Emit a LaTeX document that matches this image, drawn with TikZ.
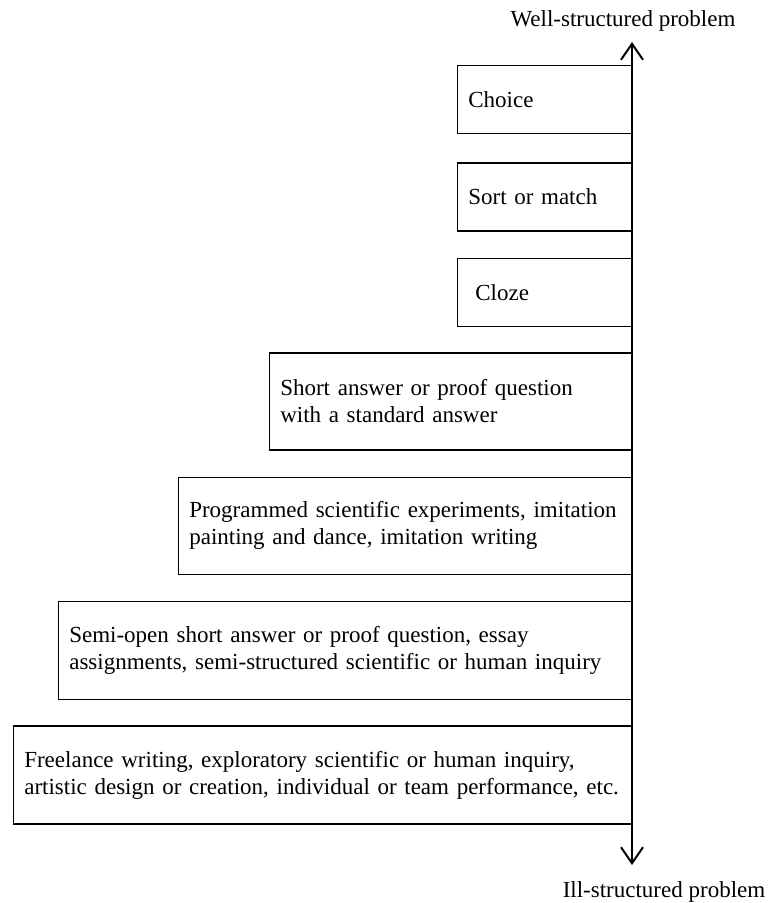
\documentclass[tikz,border=0pt]{standalone}
\usepackage{fontspec}
\setmainfont{Liberation Serif}
\usepackage{tikz}
\usetikzlibrary{arrows.meta,positioning}
\tikzstyle{axisarrow} = [line width=2pt,{Straight Barb[length=16pt,width=22pt]}-{Straight Barb[length=16pt,width=22pt]}]
\tikzstyle{taskbox} = [rectangle, draw=black, line width=1.4pt, align=left, inner xsep=11pt, inner ysep=0pt, minimum height=68pt, font=\fontsize{23}{27}\selectfont]
\tikzstyle{endlabel} = [inner sep=0pt, anchor=base, font=\fontsize{23}{27}\selectfont]

\begin{document}
\begin{tikzpicture}[x=1pt,y=-1pt]
\useasboundingbox (0,0) rectangle (772,903);
% Axis
\coordinate (top) at (632,42);
\coordinate (bottom) at (632,865);
\node[endlabel] (well) at (623,26) {Well-structured problem};
\node[endlabel] (ill) at (664,897) {Ill-structured problem};
% Closed tasks
\node[taskbox, text width=152pt, anchor=north east] (choice) at (632,65) {Choice};
\node[taskbox, text width=152pt, below=28pt of choice.south east, anchor=north east] (sort) {Sort or match};
\node[taskbox, text width=152pt, below=26pt of sort.south east, anchor=north east] (cloze) {\hspace*{7pt}Cloze};
% Open tasks
\node[taskbox, text width=340pt, minimum height=97pt, below=25pt of cloze.south east, anchor=north east] (short) {Short answer or proof question\\with a standard answer};
\node[taskbox, text width=431pt, minimum height=97pt, below=26pt of short.south east, anchor=north east] (programmed) {Programmed scientific experiments, imitation\\painting and dance, imitation writing};
\node[taskbox, text width=551pt, minimum height=98pt, below=26pt of programmed.south east, anchor=north east] (semiopen) {Semi-open short answer or proof question, essay\\assignments, semi-structured scientific or human inquiry};
\node[taskbox, text width=596pt, minimum height=98pt, below=25pt of semiopen.south east, anchor=north east] (freelance) {Freelance writing, exploratory scientific or human inquiry,\\artistic design or creation, individual or team performance, etc.};

\draw[axisarrow] (bottom) -- (top);
\end{tikzpicture}
\end{document}
